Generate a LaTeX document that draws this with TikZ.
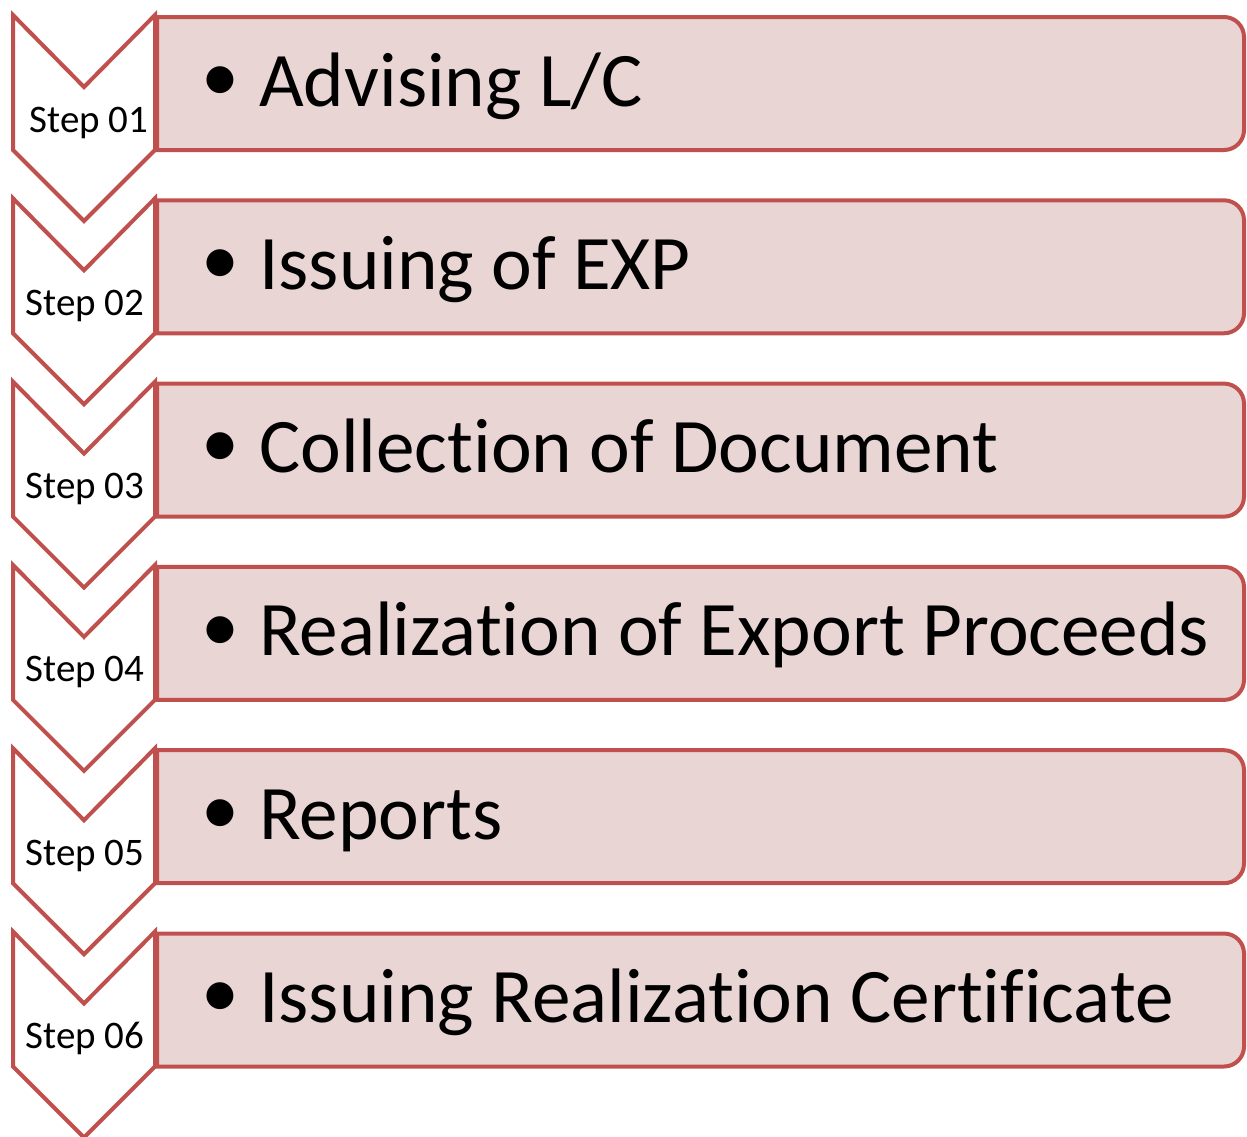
\documentclass[tikz,border=0pt]{standalone}
\usepackage{fontspec}
\setmainfont[Ligatures=NoCommon]{Carlito}
\definecolor{stepred}{RGB}{192,80,77}
\definecolor{steppink}{RGB}{234,213,213}
\tikzset{
  chevronshape/.style={draw=stepred,fill=white,line width=4pt,line join=miter},
  boxshape/.style={draw=stepred,fill=steppink,line width=4pt},
  steplabel/.style={inner sep=0pt,anchor=base,font=\fontsize{39}{46}\selectfont},
  itemlabel/.style={inner sep=0pt,anchor=base west,font=\fontsize{77.2}{90}\selectfont},
  bulletmark/.style={inner sep=0pt,anchor=center,font=\fontsize{76}{90}\selectfont}
}
\begin{document}
\begin{tikzpicture}[x=1pt,y=-1pt]
\useasboundingbox (0,0) rectangle (1247,1136);
\foreach \k/\lx/\txt in {0/89/{Advising L/C},1/85/{Issuing of EXP},2/85/{Collection of Document},3/85/{Realization of Export Proceeds},4/85/{Reports},5/85/{Issuing Realization Certificate}}{
  \pgfmathsetmacro{\t}{15+183.3*\k}
  \pgfmathsetmacro{\bt}{\t+2}
  \pgfmathsetmacro{\bb}{\t+135}
  \pgfmathsetmacro{\notch}{\t+72}
  \pgfmathsetmacro{\tip}{\t+206}
  \pgfmathsetmacro{\sb}{\t+117}
  \pgfmathsetmacro{\tb}{\t+91}
  \pgfmathsetmacro{\bc}{\t+69}
  \coordinate (c\k a) at (13,\t);
  \coordinate (c\k b) at (84,\notch);
  \coordinate (c\k c) at (155,\t);
  \coordinate (c\k d) at (155,\bb);
  \coordinate (c\k e) at (84,\tip);
  \coordinate (c\k f) at (13,\bb);
  \draw[chevronshape] (c\k a) -- (c\k b) -- (c\k c) -- (c\k d) -- (c\k e) -- (c\k f) -- cycle;
  \coordinate (b\k a) at (157,\bt);
  \coordinate (b\k b) at (1244,\bt);
  \coordinate (b\k c) at (1244,\bb);
  \coordinate (b\k d) at (157,\bb);
  \draw[boxshape] (b\k a) [rounded corners=20pt] -- (b\k b) -- (b\k c) [sharp corners] -- (b\k d) -- cycle;
  \node[steplabel] (s\k) at (\lx,\sb) {Step 0\the\numexpr\k+1\relax};
  \node[bulletmark] (d\k) at (220,\bc) {•};
  \node[itemlabel] (t\k) at (259,\tb) {\txt};
}
\end{tikzpicture}
\end{document}
